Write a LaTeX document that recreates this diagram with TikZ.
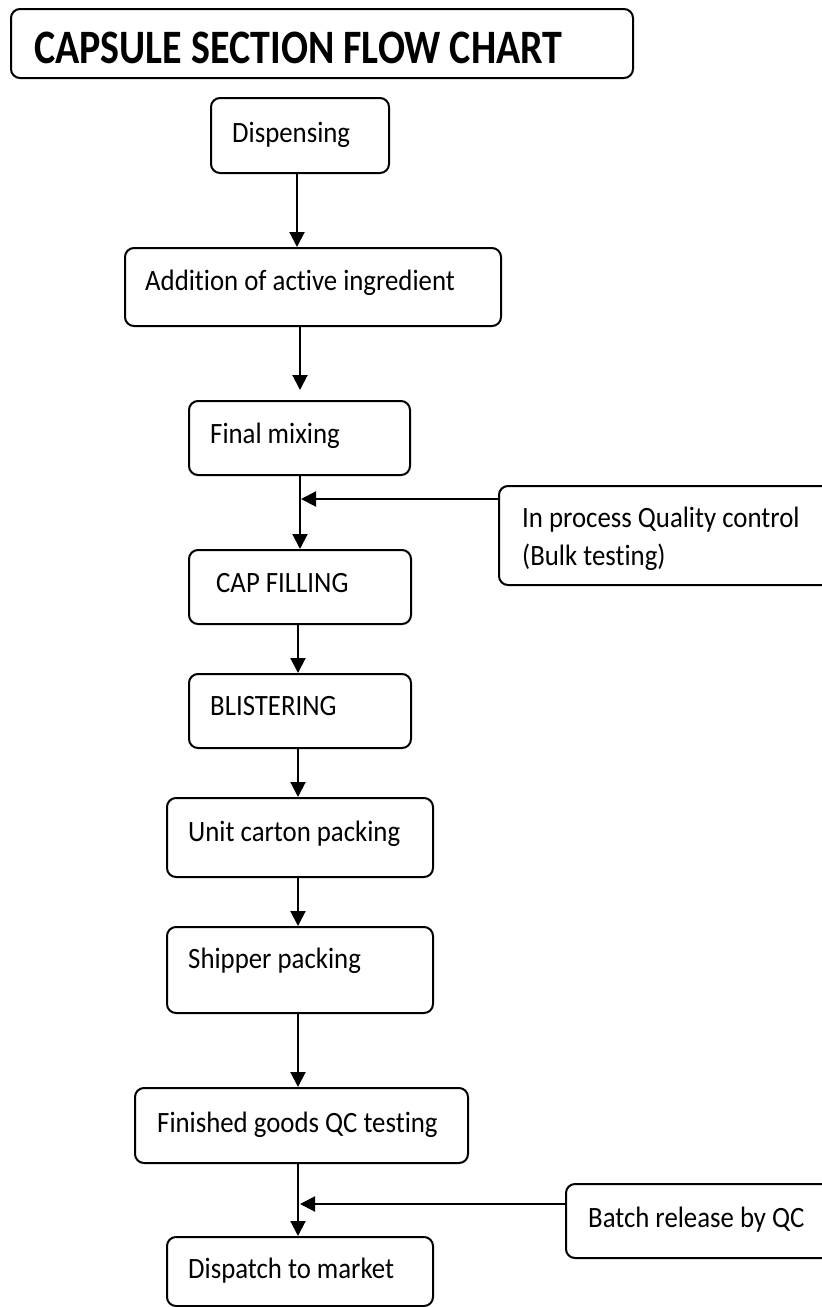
\documentclass[tikz,border=0pt]{standalone}
\usepackage{fontspec}
\setmainfont{Carlito}[Ligatures=NoCommon]
\usetikzlibrary{arrows.meta}
\newcommand\stretchtxt[1]{\scalebox{1}[1.1]{#1}}
\begin{document}
\begin{tikzpicture}[x=1pt,y=-1pt,
  box/.style={draw, line width=2pt, rounded corners=9pt, anchor=north west, inner sep=0pt},
  lbl/.style={anchor=base west, inner sep=0pt, font=\fontsize{26.8}{38}\selectfont},
  arr/.style={line width=2pt, -{Triangle[width=15pt,length=15pt]}}]
\useasboundingbox (0,0) rectangle (822,1307);
\clip (0,0) rectangle (822,1307);
\fill[white] (0,0) rectangle (822,1307);

% boxes
\node[box, minimum width=622pt, minimum height=69pt] (title) at (10,8) {};
\node[box, minimum width=178pt, minimum height=75pt] (disp) at (210,97) {};
\node[box, minimum width=376pt, minimum height=78pt] (add) at (124,247) {};
\node[box, minimum width=221pt, minimum height=74pt] (mix) at (188,400) {};
\node[box, minimum width=340pt, minimum height=99pt] (qc) at (498,485) {};
\node[box, minimum width=222pt, minimum height=74pt] (cap) at (188,549) {};
\node[box, minimum width=222pt, minimum height=74pt] (blis) at (188,673) {};
\node[box, minimum width=266pt, minimum height=79pt] (unit) at (166,797) {};
\node[box, minimum width=266pt, minimum height=86pt] (ship) at (166,926) {};
\node[box, minimum width=333pt, minimum height=75pt] (fin) at (134,1087) {};
\node[box, minimum width=280pt, minimum height=74pt] (batch) at (565,1183) {};
\node[box, minimum width=266pt, minimum height=69pt] (market) at (166,1236) {};

% texts
\node[anchor=base west, inner sep=0pt, font=\fontsize{40}{48}\selectfont\bfseries] (titleT) at (34,63) {\scalebox{1}[1.2]{CAPSULE SECTION FLOW CHART}};
\node[lbl] (dispT) at (232,142) {\stretchtxt{Dispensing}};
\node[lbl] (addT) at (145,290) {\stretchtxt{Addition of active ingredient}};
\node[lbl] (mixT) at (210,443) {\stretchtxt{Final mixing}};
\node[lbl] (qcT1) at (522,527) {\stretchtxt{In process Quality control}};
\begin{scope}
\clip (498,485) rectangle (822,569);
\node[lbl] (qcT2) at (522,565) {\stretchtxt{(Bulk testing)}};
\end{scope}
\node[lbl] (capT) at (216,592) {\stretchtxt{CAP FILLING}};
\node[lbl] (blisT) at (210,715) {\stretchtxt{BLISTERING}};
\node[lbl] (unitT) at (188,841) {\stretchtxt{Unit carton packing}};
\node[lbl] (shipT) at (188,968) {\stretchtxt{Shipper packing}};
\node[lbl] (finT) at (157,1132) {\stretchtxt{Finished goods QC testing}};
\node[lbl] (batchT) at (588,1227) {\stretchtxt{Batch release by QC}};
\node[lbl] (marketT) at (188,1278) {\stretchtxt{Dispatch to market}};

% connectors
\coordinate (s1) at (297,0);
\coordinate (s2) at (300,0);
\coordinate (s3) at (298,0);
\coordinate (j1) at (301,499);
\coordinate (j2) at (300,1204);
\draw[arr] (disp.south -| s1) -- (add.north -| s1);
\draw[arr, shorten >=10pt] (add.south -| s2) -- (mix.north -| s2);
\draw[arr] (mix.south -| s2) -- (cap.north -| s2);
\draw[arr] (qc.west |- j1) -- (j1);
\draw[arr] (cap.south -| s3) -- (blis.north -| s3);
\draw[arr] (blis.south -| s3) -- (unit.north -| s3);
\draw[arr] (unit.south -| s3) -- (ship.north -| s3);
\draw[arr] (ship.south -| s3) -- (fin.north -| s3);
\draw[arr] (fin.south -| s3) -- (market.north -| s3);
\draw[arr] (batch.west |- j2) -- (j2);
\end{tikzpicture}
\end{document}
